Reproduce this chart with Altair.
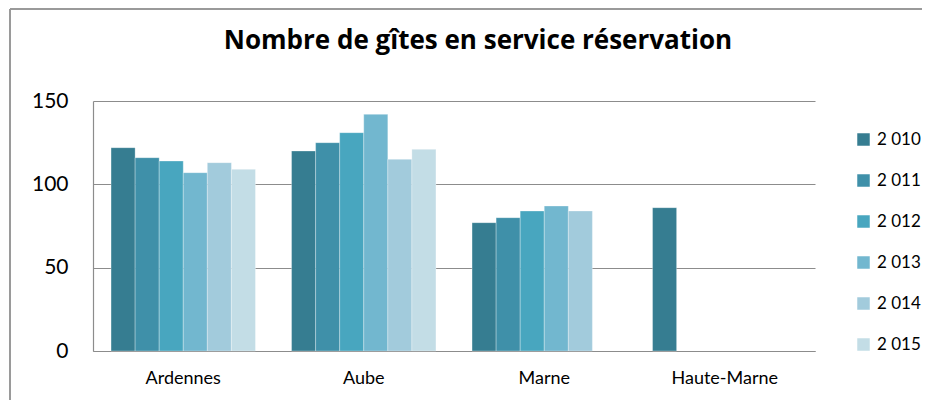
import altair as alt
import pandas as pd

departements = ["Ardennes", "Aube", "Marne", "Haute-Marne"]
annees = ["2 010", "2 011", "2 012", "2 013", "2 014", "2 015"]
ardennes = [122, 116, 114, 107, 113, 109]
aube = [120, 125, 131, 142, 115, 121]
marne = [77, 80, 84, 87, 84]
haute_marne = [86]
couleurs = ["#367d91", "#3f90a9", "#48a6bf", "#72b7cf", "#a2cbdc", "#c3dde6"]

rows = []
for dep, vals in zip(departements, [ardennes, aube, marne, haute_marne]):
    for an, v in zip(annees, vals):
        rows.append({"dep": dep, "annee": an, "val": v})
df = pd.DataFrame(rows)

GRID = "#8c8c8c"
FONT = "Lato"

bars = alt.Chart(df).mark_bar(stroke="white", strokeWidth=0.6, strokeOpacity=0.5).encode(
    x=alt.X("dep:N", sort=departements,
            scale=alt.Scale(paddingInner=0.2, paddingOuter=0.1),
            axis=alt.Axis(title=None, labelAngle=0, ticks=False, domain=True,
                          domainColor=GRID, domainWidth=1.2,
                          labelFont=FONT, labelFontSize=18, labelColor="black",
                          labelPadding=18)),
    xOffset=alt.XOffset("annee:N", sort=annees,
                        scale=alt.Scale(domain=annees, paddingInner=0, paddingOuter=0)),
    y=alt.Y("val:Q", scale=alt.Scale(domain=[0, 150]),
            axis=alt.Axis(values=[0, 50, 100, 150], title=None, ticks=False,
                          grid=True, gridColor=GRID, gridWidth=1.2,
                          domain=True, domainColor=GRID, domainWidth=1.2,
                          labelFont=FONT, labelFontSize=21, labelColor="black",
                          labelPadding=25)),
    color=alt.Color("annee:N", sort=annees,
                    scale=alt.Scale(domain=annees, range=couleurs),
                    legend=alt.Legend(title=None, orient="none", legendX=762, legendY=30,
                                      symbolType="square", symbolSize=156,
                                      symbolStrokeWidth=0, labelFont=FONT,
                                      labelFontSize=17, labelColor="black",
                                      labelOffset=5, rowPadding=23, padding=0)),
)

frame = pd.DataFrame({"k": [0]})
left_border = alt.Chart(frame).mark_rule(color="#9a9a9a", strokeWidth=2).encode(
    x=alt.value(-83), y=alt.value(-92), y2=alt.value(300))
top_border = alt.Chart(frame).mark_rule(color="#9a9a9a", strokeWidth=2).encode(
    x=alt.value(-83), x2=alt.value(830), y=alt.value(-92))

chart = alt.layer(bars, left_border, top_border).properties(
    width=722, height=250,
    padding={"left": 85, "top": 93, "right": 107, "bottom": 49},
    autosize=alt.AutoSizeParams(type="none"),
    title=alt.TitleParams("Nombre de gîtes en service réservation", font="Open Sans",
                          fontSize=26, fontWeight="bold", color="black",
                          anchor="middle", dx=24, baseline="alphabetic",
                          offset=0, dy=67),
).configure_view(stroke=None)

chart.save("out.html", embed_options={"renderer": "svg", "actions": False})
